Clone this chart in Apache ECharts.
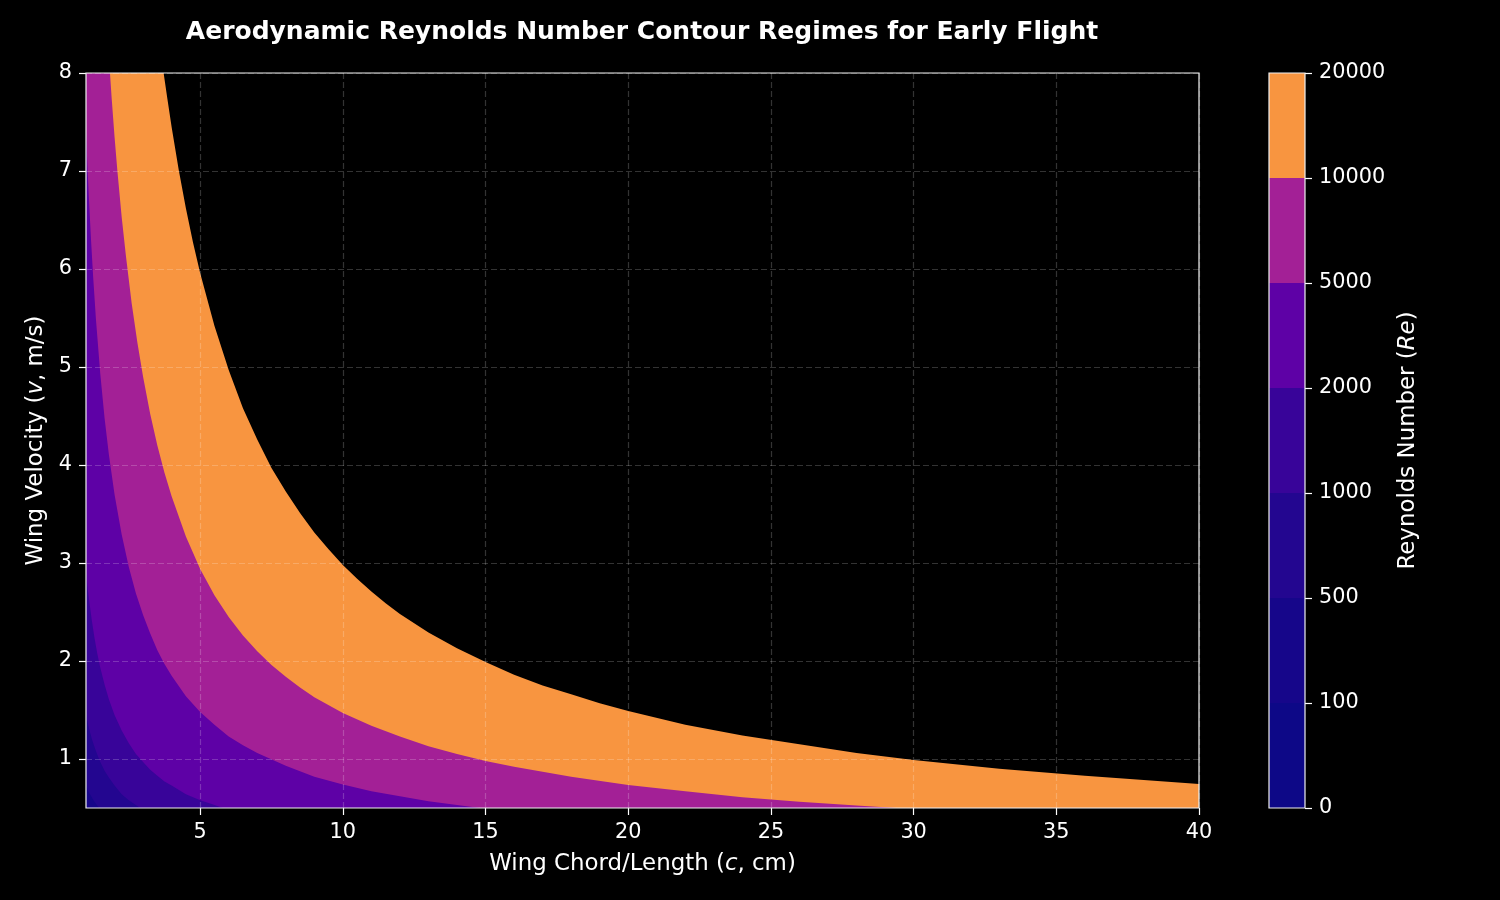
<!DOCTYPE html>
<html>
<head>
<meta charset="utf-8">
<script src="https://cdn.jsdelivr.net/npm/echarts@6/dist/echarts.min.js"></script>
<style>
  html, body { margin: 0; background: #000; }
  #chart { width: 1500px; height: 900px; }
</style>
</head>
<body>
<div id="chart"></div>
<script>
/* ---------------------------- data ---------------------------- */

// contour levels of the Reynolds number and the band colours between them
const levels = [0, 100, 500, 1000, 2000, 5000, 10000, 20000];
const bandColors = ['#0d0887', '#16068a', '#230690', '#380499', '#5e01a6', '#a32096', '#f89540'];

// tick labels
const xTicks = [5, 10, 15, 20, 25, 30, 35, 40];
const yTicks = [1, 2, 3, 4, 5, 6, 7, 8];

// iso-Re boundaries [chord cm, velocity m/s]
const re20000 = [
  [1, 8], [3.72, 8], [3.85, 7.74], [4, 7.45], [4.25, 7.01], [4.5, 6.62], [4.75, 6.27],
  [5, 5.96], [5.5, 5.42], [6, 4.97], [6.5, 4.58], [7, 4.26], [7.5, 3.97], [8, 3.73],
  [8.5, 3.51], [9, 3.31], [9.5, 3.14], [10, 2.98], [10.5, 2.84], [11, 2.71], [11.5, 2.59],
  [12, 2.48], [13, 2.29], [14, 2.13], [15, 1.99], [16, 1.86], [17, 1.75], [18, 1.66],
  [19, 1.57], [20, 1.49], [22, 1.35], [24, 1.24], [26, 1.15], [28, 1.06], [30, 0.99],
  [33, 0.9], [36, 0.83], [40, 0.745]
];
const re10000 = [
  [1, 8], [1.84, 8], [1.9, 7.74], [2, 7.35], [2.1, 7.0], [2.25, 6.53], [2.4, 6.13],
  [2.6, 5.65], [2.8, 5.25], [3, 4.9], [3.25, 4.52], [3.5, 4.2], [3.75, 3.92], [4, 3.68],
  [4.5, 3.27], [5, 2.94], [5.5, 2.67], [6, 2.45], [6.5, 2.26], [7, 2.1], [7.5, 1.96],
  [8, 1.84], [8.5, 1.73], [9, 1.63], [10, 1.47], [11, 1.34], [12, 1.23], [13, 1.13],
  [14, 1.05], [15, 0.98], [16, 0.92], [18, 0.82], [20, 0.735], [22, 0.67], [24, 0.61],
  [26, 0.565], [28, 0.525], [29.4, 0.5]
];
const re5000 = [
  [1, 7.4], [1.05, 7.05], [1.1, 6.73], [1.175, 6.3], [1.25, 5.92], [1.35, 5.48],
  [1.5, 4.93], [1.65, 4.48], [1.8, 4.11], [2, 3.7], [2.25, 3.29], [2.5, 2.96],
  [2.75, 2.69], [3, 2.47], [3.25, 2.28], [3.5, 2.11], [3.75, 1.97], [4, 1.85],
  [4.5, 1.64], [5, 1.48], [5.5, 1.35], [6, 1.23], [6.5, 1.14], [7, 1.06], [8, 0.93],
  [9, 0.82], [10, 0.74], [11, 0.67], [12, 0.62], [13, 0.57], [14, 0.53], [14.8, 0.5]
];
const re2000 = [
  [1, 2.9], [1.05, 2.76], [1.1, 2.64], [1.2, 2.42], [1.3, 2.23], [1.4, 2.07], [1.5, 1.93],
  [1.65, 1.76], [1.8, 1.61], [2, 1.45], [2.25, 1.29], [2.5, 1.16], [2.75, 1.05],
  [3, 0.97], [3.25, 0.89], [3.5, 0.83], [3.75, 0.77], [4, 0.73], [4.5, 0.64], [5, 0.58],
  [5.4, 0.54], [5.8, 0.5]
];
const re1000 = [
  [1, 1.45], [1.1, 1.32], [1.2, 1.21], [1.3, 1.12], [1.4, 1.04], [1.5, 0.97],
  [1.65, 0.88], [1.8, 0.81], [2, 0.73], [2.25, 0.64], [2.5, 0.58], [2.9, 0.5]
];
const re500 = [[1, 0.73], [1.1, 0.66], [1.2, 0.61], [1.3, 0.56], [1.46, 0.5]];

/* ------------------------------------------------------------------------------ */

const FONT = 'DejaVu Sans';
const chart = echarts.init(document.getElementById('chart'));

// each boundary is filled down to the axis with the band just below its level
const boundaries = [
  { level: 20000, data: re20000 },
  { level: 10000, data: re10000 },
  { level: 5000, data: re5000 },
  { level: 2000, data: re2000 },
  { level: 1000, data: re1000 },
  { level: 500, data: re500 }
];

const contourSeries = boundaries.map(b => ({
  name: 'Re ' + b.level,
  type: 'line',
  xAxisIndex: 0,
  yAxisIndex: 0,
  data: b.data,
  symbol: 'none',
  smooth: false,
  lineStyle: { width: 0, opacity: 0 },
  areaStyle: { color: bandColors[levels.indexOf(b.level) - 1], opacity: 1, origin: 'start' },
  silent: true
}));

const colorbarSeries = bandColors.map((col, i) => ({
  name: levels[i] + '-' + levels[i + 1],
  type: 'bar',
  xAxisIndex: 1,
  yAxisIndex: 1,
  stack: 'cb',
  data: [1],
  barWidth: '100%',
  itemStyle: { color: col },
  silent: true
}));

const gridLine = {
  show: true,
  lineStyle: { color: 'rgba(255,255,255,0.2)', type: [6, 3], width: 1.2 }
};
const tickStyle = { show: true, inside: false, length: 7, lineStyle: { color: '#fff', width: 1.2 } };
const labelStyle = { color: '#fff', fontSize: 20.8, fontFamily: FONT, margin: 14 };
const nameStyle = size => ({
  color: '#fff',
  fontSize: size,
  fontFamily: FONT,
  rich: { i: { color: '#fff', fontSize: size, fontFamily: FONT, fontStyle: 'italic' } }
});

const option = {
  backgroundColor: '#000',
  animation: false,
  title: {
    text: 'Aerodynamic Reynolds Number Contour Regimes for Early Flight',
    left: 642,
    top: 20,
    textAlign: 'center',
    padding: 0,
    textStyle: { color: '#fff', fontSize: 25, fontWeight: 'bold', fontFamily: FONT }
  },
  grid: [
    { left: 86, top: 73, width: 1113, height: 735, show: true, borderColor: '#f0f0f0', borderWidth: 1.2, backgroundColor: 'transparent', z: 10 },
    { left: 1269, top: 73, width: 36, height: 735, show: true, borderColor: '#f0f0f0', borderWidth: 1.2, backgroundColor: 'transparent', z: 10 }
  ],
  xAxis: [
    {
      type: 'value',
      gridIndex: 0,
      min: 1,
      max: 40,
      z: 5,
      name: 'Wing Chord/Length ({i|c}, cm)',
      nameLocation: 'middle',
      nameGap: 45,
      nameTextStyle: nameStyle(22.9),
      axisLine: { show: false, onZero: false },
      axisTick: Object.assign({ customValues: xTicks }, tickStyle),
      axisLabel: Object.assign({ customValues: xTicks }, labelStyle),
      splitLine: gridLine
    },
    {
      type: 'category',
      gridIndex: 1,
      data: ['Re'],
      show: false
    }
  ],
  yAxis: [
    {
      type: 'value',
      gridIndex: 0,
      min: 0.5,
      max: 8,
      z: 5,
      name: 'Wing Velocity ({i|v}, m/s)',
      nameLocation: 'middle',
      nameGap: 38,
      nameRotate: 90,
      nameTextStyle: nameStyle(22.9),
      axisLine: { show: false, onZero: false },
      axisTick: Object.assign({ customValues: yTicks }, tickStyle),
      axisLabel: Object.assign({ customValues: yTicks }, labelStyle),
      splitLine: gridLine
    },
    {
      type: 'value',
      gridIndex: 1,
      position: 'right',
      min: 0,
      max: levels.length - 1,
      interval: 1,
      z: 5,
      name: 'Reynolds Number ({i|Re})',
      nameLocation: 'middle',
      nameGap: 92,
      nameRotate: 90,
      nameTextStyle: nameStyle(22.9),
      axisLine: { show: false },
      axisTick: tickStyle,
      axisLabel: Object.assign({ formatter: v => String(levels[v]) }, labelStyle),
      splitLine: { show: false }
    }
  ],
  series: contourSeries.concat(colorbarSeries)
};

chart.setOption(option);
</script>
</body>
</html>
